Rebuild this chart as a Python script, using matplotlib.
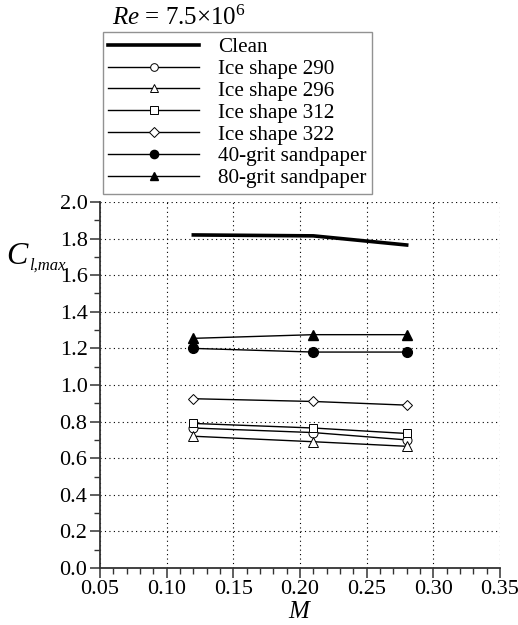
import matplotlib
matplotlib.use("Agg")
import matplotlib.pyplot as plt
from matplotlib.ticker import MultipleLocator, FormatStrFormatter

plt.rcParams['font.family'] = ['Liberation Serif', 'DejaVu Serif']
plt.rcParams['mathtext.fontset'] = 'custom'
plt.rcParams['mathtext.rm'] = 'Liberation Serif'
plt.rcParams['mathtext.it'] = 'Liberation Serif:italic'

mach = [0.12, 0.21, 0.28]
clean = [1.82, 1.815, 1.765]
ice290 = [0.765, 0.74, 0.70]
ice296 = [0.72, 0.69, 0.665]
ice312 = [0.79, 0.765, 0.735]
ice322 = [0.925, 0.91, 0.89]
grit40 = [1.20, 1.18, 1.18]
grit80 = [1.255, 1.275, 1.275]

fig = plt.figure(figsize=(5.18, 6.25), dpi=100)
ax = fig.add_axes([100/518, 1-568/625, 400/518, 366/625])

ms = 6.5
h_clean, = ax.plot(mach, clean, color='black', lw=2.6, label='Clean')
h290, = ax.plot(mach, ice290, color='black', lw=1.0, marker='o', ms=ms, mfc='white', mec='black', mew=0.7, label='Ice shape 290')
h296, = ax.plot(mach, ice296, color='black', lw=1.0, marker='^', ms=ms, mfc='white', mec='black', mew=0.7, label='Ice shape 296')
h312, = ax.plot(mach, ice312, color='black', lw=1.0, marker='s', ms=ms-0.5, mfc='white', mec='black', mew=0.7, label='Ice shape 312')
h322, = ax.plot(mach, ice322, color='black', lw=1.0, marker='D', ms=ms-1, mfc='white', mec='black', mew=0.7, label='Ice shape 322')
h40, = ax.plot(mach, grit40, color='black', lw=1.0, marker='o', ms=ms+0.5, mfc='black', mec='black', label='40-grit sandpaper')
h80, = ax.plot(mach, grit80, color='black', lw=1.0, marker='^', ms=ms+0.5, mfc='black', mec='black', label='80-grit sandpaper')

ax.set_xlim(0.05, 0.35)
ax.set_ylim(0.0, 2.0)
ax.xaxis.set_major_locator(MultipleLocator(0.05))
ax.xaxis.set_minor_locator(MultipleLocator(0.01))
ax.yaxis.set_major_locator(MultipleLocator(0.2))
ax.yaxis.set_minor_locator(MultipleLocator(0.1))
ax.xaxis.set_major_formatter(FormatStrFormatter('%.2f'))
ax.yaxis.set_major_formatter(FormatStrFormatter('%.1f'))

for s in ['top', 'right']:
    ax.spines[s].set_visible(False)
for s in ['left', 'bottom']:
    ax.spines[s].set_linewidth(1.3)
    ax.spines[s].set_color('#333333')
ax.tick_params(which='major', direction='out', length=7, width=1.1, labelsize=16, colors='#333333', labelcolor='black', pad=2)
ax.tick_params(which='minor', direction='out', length=4, width=1.0, colors='#333333')
ax.grid(True, which='major', color='black', linestyle=(0, (1, 3)), linewidth=0.8)
ax.set_axisbelow(True)

ax.set_xlabel(r'$M$', fontsize=18, labelpad=1)
fig.text(6/518, 1-256/625, 'C', fontsize=23, style='italic', ha='left', va='center')
fig.text(29/518, 1-266/625, 'l,max', fontsize=12, style='italic', ha='left', va='center')

fig.text(112/518, 1-18/625, r'$Re$ = 7.5×10$^6$', fontsize=18, ha='left', va='center')

leg = fig.legend(handles=[h_clean, h290, h296, h312, h322, h40, h80],
                 loc='upper left', bbox_to_anchor=(103/518, 1-32/625),
                 fontsize=15.2, frameon=True, fancybox=False, edgecolor='#777777',
                 handlelength=4.3, handletextpad=0.9, labelspacing=0.1,
                 borderpad=0.25, borderaxespad=0, markerscale=0.85)
leg.get_frame().set_linewidth(1.0)

fig.savefig('out.png', dpi=100)
